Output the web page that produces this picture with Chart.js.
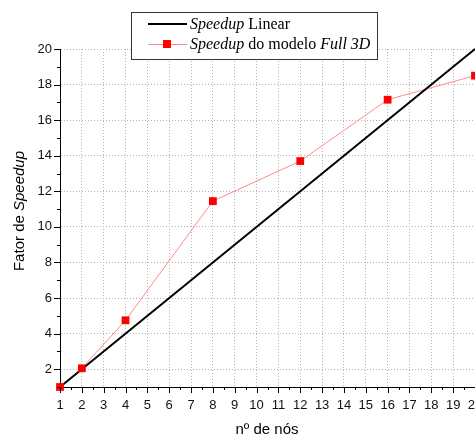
<!DOCTYPE html>
<html>
<head>
<meta charset="utf-8">
<script src="https://cdn.jsdelivr.net/npm/chart.js@4"></script>
<style>
  body { margin: 0; background: #fff; }
  #wrap { width: 475px; height: 438px; }
</style>
</head>
<body>
<div id="wrap"><canvas id="speedupChart" width="475" height="438"></canvas></div>
<script>
// data
const nodes = [1, 2, 4, 8, 12, 16, 20];
const speedupFull3D = [1, 2.05, 4.75, 11.45, 13.7, 17.15, 18.5];
const linearNodes = [1, 20];
const linearSpeedup = [1, 20];
const yTickValues = [2, 4, 6, 8, 10, 12, 14, 16, 18, 20];
const xTickValues = [1, 2, 3, 4, 5, 6, 7, 8, 9, 10, 11, 12, 13, 14, 15, 16, 17, 18, 19, 20];

const sansFont = '"Liberation Sans", Arial, sans-serif';
const serifFont = '"Liberation Serif", "Times New Roman", serif';

function pts(xs, ys) {
    return xs.map((x, i) => ({ x: x, y: ys[i] }));
}

// draws text made of parts with different styles
function drawRuns(ctx, runs, x, y, size) {
    runs.forEach(r => {
        ctx.font = (r.italic ? 'italic ' : '') + size + 'px ' + serifFont;
        ctx.fillText(r.text, x, y);
        x += ctx.measureText(r.text).width;
    });
}

// ticks, x labels, titles and the boxed legend
const decorations = {
    id: 'decorations',
    afterDraw(chart) {
        const ctx = chart.ctx;
        const xs = chart.scales.x;
        const ys = chart.scales.y;
        const area = chart.chartArea;
        ctx.save();
        ctx.strokeStyle = '#000';
        ctx.lineWidth = 1;
        ctx.beginPath();
        // x ticks: major at integers, minor at halves
        for (let v = 1; v <= 20; v += 0.5) {
            const px = Math.round(xs.getPixelForValue(v)) + 0.5;
            const len = Number.isInteger(v) ? 6 : 3;
            ctx.moveTo(px, area.bottom);
            ctx.lineTo(px, area.bottom + len);
        }
        // y ticks: major at even, minor at odd
        for (let v = 1; v <= 20; v += 1) {
            const py = Math.round(ys.getPixelForValue(v)) + 0.5;
            const len = v % 2 === 0 ? 6 : 3;
            ctx.moveTo(area.left, py);
            ctx.lineTo(area.left - len, py);
        }
        ctx.stroke();

        // x tick labels (drawn here so the last one can run off the edge)
        ctx.fillStyle = '#111';
        ctx.textBaseline = 'middle';
        ctx.textAlign = 'center';
        ctx.font = '13px ' + sansFont;
        xTickValues.forEach(v => {
            ctx.fillText(String(v), xs.getPixelForValue(v), 405);
        });

        // axis titles
        ctx.fillStyle = '#000';
        ctx.font = '15px ' + sansFont;
        ctx.fillText('nº de nós', 267, 430);

        ctx.save();
        ctx.translate(20, 211);
        ctx.rotate(-Math.PI / 2);
        ctx.textAlign = 'left';
        const a = 'Fator de ';
        const b = 'Speedup';
        ctx.font = '15px ' + sansFont;
        const wa = ctx.measureText(a).width;
        ctx.font = 'italic 15px ' + sansFont;
        const wb = ctx.measureText(b).width;
        let sx = -(wa + wb) / 2;
        ctx.font = '15px ' + sansFont;
        ctx.fillText(a, sx, 0);
        ctx.font = 'italic 15px ' + sansFont;
        ctx.fillText(b, sx + wa, 0);
        ctx.restore();

        // legend box
        ctx.fillStyle = '#fff';
        ctx.fillRect(131, 12, 246, 47);
        ctx.strokeStyle = '#333';
        ctx.lineWidth = 1;
        ctx.strokeRect(131.5, 12.5, 246, 47);

        ctx.strokeStyle = '#000';
        ctx.lineWidth = 2;
        ctx.beginPath();
        ctx.moveTo(148, 24);
        ctx.lineTo(187, 24);
        ctx.stroke();

        ctx.strokeStyle = '#ff8c8c';
        ctx.lineWidth = 1;
        ctx.beginPath();
        ctx.moveTo(148, 44.5);
        ctx.lineTo(187, 44.5);
        ctx.stroke();
        ctx.fillStyle = '#ff0000';
        ctx.fillRect(163, 40, 8, 8);

        ctx.fillStyle = '#000';
        ctx.textAlign = 'left';
        drawRuns(ctx, [{ text: 'Speedup', italic: true }, { text: ' Linear' }], 190, 25, 16);
        drawRuns(ctx, [{ text: 'Speedup', italic: true }, { text: ' do modelo ' }, { text: 'Full 3D', italic: true }], 190, 45, 16);
        ctx.restore();
    }
};

const ctx = document.getElementById('speedupChart').getContext('2d');
const chart = new Chart(ctx, {
    type: 'line',
    data: {
        datasets: [
            {
                label: 'Speedup do modelo Full 3D',
                data: pts(nodes, speedupFull3D),
                showLine: false,
                pointStyle: 'rect',
                pointRadius: 5.5,
                pointBackgroundColor: '#ff0000',
                pointBorderWidth: 0,
                order: 0
            },
            {
                label: 'Speedup Linear',
                data: pts(linearNodes, linearSpeedup),
                borderColor: '#000',
                borderWidth: 2,
                pointRadius: 0,
                order: 1
            },
            {
                label: 'model line',
                data: pts(nodes, speedupFull3D),
                borderColor: '#ff8c8c',
                borderWidth: 1,
                pointRadius: 0,
                order: 2
            }
        ]
    },
    options: {
        responsive: false,
        animation: false,
        events: [],
        clip: false,
        layout: { autoPadding: false, padding: { top: 49, right: 0, left: 0, bottom: 0 } },
        plugins: { legend: { display: false }, tooltip: { enabled: false } },
        scales: {
            x: {
                type: 'linear',
                min: 1,
                max: 20,
                afterBuildTicks(scale) {
                    scale.ticks = xTickValues.map(v => ({ value: v }));
                },
                afterFit(scale) {
                    scale.height = 51;
                },
                border: { display: true, color: '#000', width: 1, dash: [1, 2] },
                grid: {
                    drawTicks: false,
                    color: '#b4b4b4',
                    lineWidth: 1
                },
                ticks: { display: false }
            },
            y: {
                type: 'linear',
                min: 1,
                max: 20,
                afterBuildTicks(scale) {
                    scale.ticks = yTickValues.map(v => ({ value: v }));
                },
                afterFit(scale) {
                    scale.width = 60;
                    scale.paddingTop = 0;
                    scale.paddingBottom = 0;
                },
                border: { display: true, color: '#000', width: 1, dash: [1, 2] },
                grid: {
                    drawTicks: false,
                    color: '#b4b4b4',
                    lineWidth: 1
                },
                ticks: {
                    padding: 8,
                    color: '#111',
                    font: { family: sansFont, size: 13 }
                }
            }
        }
    },
    plugins: [decorations]
});
</script>
</body>
</html>
